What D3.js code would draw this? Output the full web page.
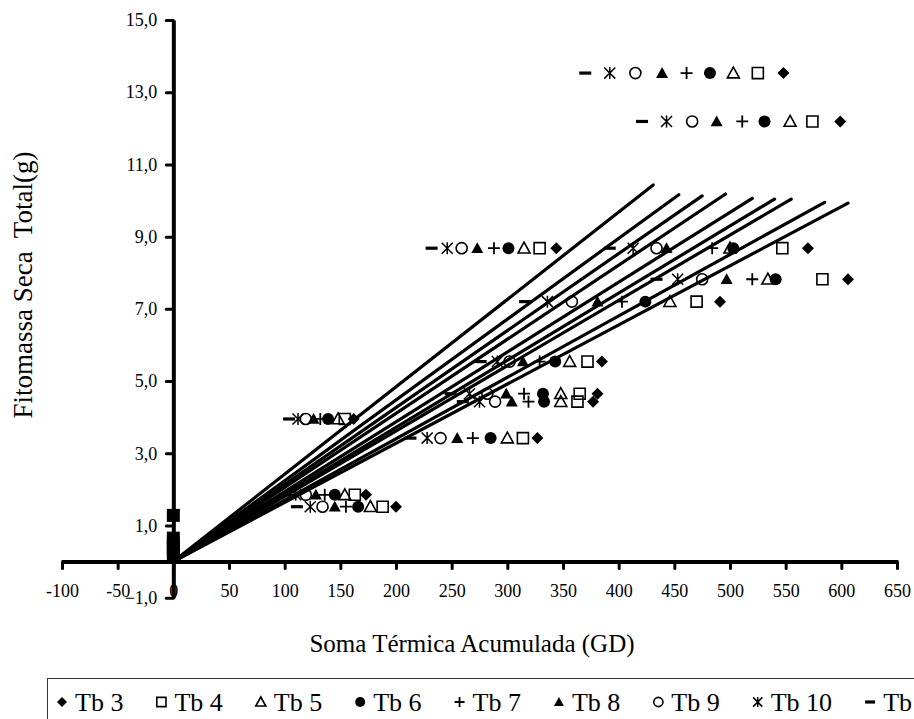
<!DOCTYPE html>
<html>
<head>
<meta charset="utf-8">
<script src="https://cdn.jsdelivr.net/npm/d3@7"></script>
<style>
  body { margin: 0; background: #fff; }
  text { font-family: "Liberation Serif", "Times New Roman", serif; fill: #000; }
</style>
</head>
<body>
<div id="chart"></div>
<script>
// total dry mass (g) of each sampling, same for all base temperatures
const massY = [1.52, 1.85, 3.42, 3.95, 4.43, 4.65, 5.54, 7.20, 7.82, 8.68, 8.68, 12.19, 13.53];

// accumulated thermal sum (GD) per base temperature, same order as massY
const tb3  = [200, 173, 327, 162, 377, 381, 385, 491, 606, 344, 570, 599, 548];
const tb4  = [188, 163, 314, 154, 363, 365, 372, 470, 583, 329, 547, 574, 525];
const tb5  = [177, 154, 300, 148, 348, 348, 356, 446, 534, 315, 500, 554, 503];
const tb6  = [166, 145, 285, 139, 333, 332, 343, 424, 541, 301, 503, 531, 482];
const tb7  = [155, 136, 269, 132, 319, 315, 329, 403, 520, 288, 484, 511, 461];
const tb8  = [145, 128, 255, 126, 304, 299, 314, 381, 497, 273, 443, 488, 439];
const tb9  = [134, 119, 240, 119, 289, 282, 302, 358, 475, 259, 434, 466, 415];
const tb10 = [123, 110, 228, 112, 275, 266, 291, 336, 453, 246, 413, 443, 392];
const tb11 = [111, 101, 213, 104, 260, 249, 276, 316, 434, 232, 392, 421, 370];

const seriesNames = ["Tb 3", "Tb 4", "Tb 5", "Tb 6", "Tb 7", "Tb 8", "Tb 9", "Tb 10", "Tb 11"];
const seriesX = [tb3, tb4, tb5, tb6, tb7, tb8, tb9, tb10, tb11];

// samplings that sit at zero thermal sum
const zeroMass = [1.28, 0.65, 0.5, 0.35, 0.2];

// linear trendlines through the origin: end point of each one
const trendEndX = [606, 585, 555, 540, 520, 496, 475, 454, 431];
const trendEndY = [9.93, 9.95, 10.04, 10.04, 10.06, 10.18, 10.13, 10.16, 10.43];

const xTicks = [-100, -50, 0, 50, 100, 150, 200, 250, 300, 350, 400, 450, 500, 550, 600, 650];
const yTicks = [-1, 1, 3, 5, 7, 9, 11, 13, 15];

//---------------------------SPACE SETUP---------------------------------
const width = 914, height = 719;
const markerTypes = ["diamond", "square", "triangle", "circle", "plus", "triangleFill", "circleOpen", "star", "dash"];

const svg = d3.select("#chart").append("svg")
    .attr("width", width)
    .attr("height", height);

const x = d3.scaleLinear().domain([-100, 650]).range([62, 897]);
const y = d3.scaleLinear().domain([-1, 15]).range([597.7, 20]);

const ptBR = d3.formatLocale({ decimal: ",", thousands: ".", grouping: [3], currency: ["", ""] });
const fmtY = ptBR.format(".1f");

//---------------------------MARKERS---------------------------------
const markerShape = (type, r) => {
    const c = r * 0.92;
    switch (type) {
        case "diamond": return { d: `M0,${-r}L${r},0L0,${r}L${-r},0Z`, fill: "#000", sw: 0 };
        case "square": return { d: `M${-c},${-c}H${c}V${c}H${-c}Z`, fill: "none", sw: 1.6 };
        case "triangle": return { d: `M0,${-r}L${r},${r * 0.8}L${-r},${r * 0.8}Z`, fill: "none", sw: 1.6 };
        case "triangleFill": return { d: `M0,${-r}L${r},${r * 0.8}L${-r},${r * 0.8}Z`, fill: "#000", sw: 0 };
        case "circle": return { d: `M${r},0A${r},${r} 0 1 1 ${-r},0A${r},${r} 0 1 1 ${r},0Z`, fill: "#000", sw: 0 };
        case "circleOpen": return { d: `M${c},0A${c},${c} 0 1 1 ${-c},0A${c},${c} 0 1 1 ${c},0Z`, fill: "none", sw: 1.6 };
        case "plus": return { d: `M${-r},0H${r}M0,${-r}V${r}`, fill: "none", sw: 1.8 };
        case "star": return { d: `M0,${-r}V${r}M${-c},${-c}L${c},${c}M${c},${-c}L${-c},${c}`, fill: "none", sw: 1.5 };
        case "dash": return { d: `M${-r},0H${r}`, fill: "none", sw: 3.2 };
    }
};

const drawMarker = (g, type, cx, cy, r) => {
    const m = markerShape(type, r);
    g.append("path")
        .attr("transform", `translate(${cx},${cy})`)
        .attr("d", m.d)
        .attr("fill", m.fill)
        .attr("stroke", m.sw ? "#000" : "none")
        .attr("stroke-width", m.sw);
};

//---------------------------BUILD AXIS---------------------------------
const xAxis = d3.axisBottom(x).tickValues(xTicks).tickSize(7).tickSizeOuter(0).tickPadding(16)
    .tickFormat(d => String(d));
const yAxis = d3.axisLeft(y).tickValues(yTicks).tickSize(7).tickSizeOuter(0).tickPadding(9)
    .tickFormat(d => fmtY(d));

const gx = svg.append("g").attr("transform", `translate(0,${y(0)})`).call(xAxis);
const gy = svg.append("g").attr("transform", `translate(${x(0)},0)`).call(yAxis);

[gx, gy].forEach(g => {
    g.select(".domain").attr("stroke", "#000").attr("stroke-width", 4);
    g.selectAll(".tick line").attr("stroke", "#000").attr("stroke-width", 3).attr("stroke-linecap", "round");
    g.selectAll(".tick text").attr("font-size", 18).attr("font-family", "Liberation Serif");
});

//---------------------------USE DATA---------------------------------
const pts = svg.append("g");
seriesX.forEach((xs, i) => {
    xs.forEach((v, j) => drawMarker(pts, markerTypes[i], x(v), y(massY[j]), 6));
});

pts.selectAll("rect.zero")
    .data(zeroMass)
    .enter().append("rect")
    .attr("class", "zero")
    .attr("x", x(0) - 6.5)
    .attr("y", d => y(d) - 6.5)
    .attr("width", 13)
    .attr("height", 13)
    .attr("fill", "#000");

const line = d3.line().x(d => x(d[0])).y(d => y(d[1]));
svg.append("g").selectAll("path")
    .data(trendEndX.map((ex, i) => [[0, 0], [ex, trendEndY[i]]]))
    .enter().append("path")
    .attr("d", line)
    .attr("fill", "none")
    .attr("stroke", "#000")
    .attr("stroke-width", 3.2)
    .attr("stroke-linecap", "round");

//---------------------------TITLES---------------------------------
svg.append("text")
    .attr("x", 472)
    .attr("y", 652)
    .attr("text-anchor", "middle")
    .attr("font-size", 25)
    .text("Soma Térmica Acumulada (GD)");

svg.append("text")
    .attr("transform", `translate(32,285) rotate(-90)`)
    .attr("text-anchor", "middle")
    .attr("font-size", 27)
    .attr("xml:space", "preserve")
    .style("white-space", "pre")
    .text("Fitomassa Seca  Total(g)");

//---------------------------LEGEND---------------------------------
svg.append("rect")
    .attr("x", 47.5).attr("y", 678.5)
    .attr("width", 900).attr("height", 60)
    .attr("fill", "none").attr("stroke", "#333").attr("stroke-width", 1);

const lg = svg.append("g");
let lx = 62;
seriesNames.forEach((name, i) => {
    drawMarker(lg, markerTypes[i], lx, 702, 5);
    const t = lg.append("text")
        .attr("x", lx + 13)
        .attr("y", 711)
        .attr("font-size", 26)
        .text(name);
    lx += 13 + t.node().getComputedTextLength() + 38;
});
</script>
</body>
</html>
